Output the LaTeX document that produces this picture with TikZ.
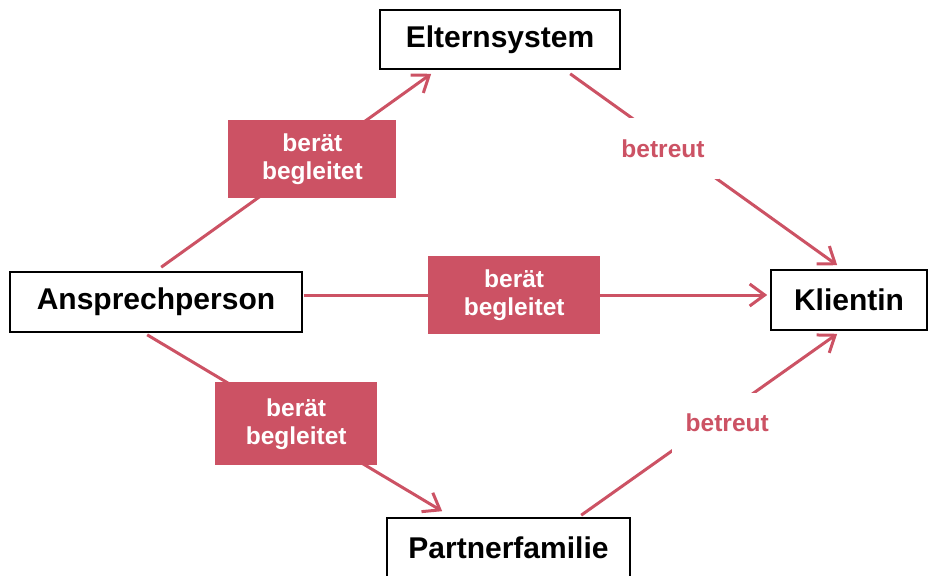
\documentclass[tikz,border=0pt]{standalone}
\usepackage{fontspec}
\setmainfont{Liberation Sans}
\usetikzlibrary{arrows.meta,calc}
\definecolor{rosered}{RGB}{204,82,100}
\tikzset{
	person/.style={draw=black, line width=1.6pt, fill=white, inner sep=0pt, font=\fontsize{30}{34}\selectfont\bfseries},
	task/.style={fill=rosered, text=white, align=center, inner sep=0pt, font=\fontsize{24.5}{28}\selectfont\bfseries},
	care/.style={fill=white, text=rosered, inner xsep=14pt, inner ysep=0pt, minimum height=61, font=\fontsize{24.5}{28}\selectfont\bfseries},
	link/.style={draw=rosered, line width=3pt, -{Straight Barb[length=15pt,width=22pt]}}
}
\begin{document}
\begin{tikzpicture}[x=1pt, y=-1pt]
	\useasboundingbox (0,0) rectangle (928,575);
	
	% Personen
	\node[person, minimum width=240, minimum height=59] (eltern) at (500, 39.5) {Elternsystem};
	\node[person, minimum width=292, minimum height=60] (ansprech) at (156, 302) {Ansprechperson};
	\node[person, minimum width=156, minimum height=60] (klientin) at (849, 300) {Klientin};
	\node[person, minimum width=243, minimum height=60] (partner) at (508.5, 548) {Partnerfamilie};
	
	% berät / begleitet
	\draw[link] ($(ansprech.north west)+(152,-4)$) -- node[task, pos=0.56, minimum width=168, minimum height=78] (beratE) {berät\\begleitet} ($(eltern.south west)+(52,4)$);
	\draw[link] ($(ansprech.east)+(1,-7)$) -- node[task, pos=0.454, minimum width=172, minimum height=78] (beratK) {berät\\begleitet} ($(klientin.west)+(-3,-5)$);
	\draw[link] ($(ansprech.south west)+(138,2)$) -- node[task, pos=0.505, minimum width=162, minimum height=83] (beratP) {berät\\begleitet} ($(partner.north west)+(56,-6)$);
	
	% betreut
	\draw[link] ($(eltern.south west)+(191,4)$) -- node[care, pos=0.4, xshift=-14pt, yshift=2pt] (betreutE) {betreut} ($(klientin.north west)+(67,-4)$);
	\draw[link] ($(partner.north west)+(195,-2)$) -- node[care, pos=0.508, xshift=16pt] (betreutP) {betreut} ($(klientin.south west)+(67,3)$);
	
\end{tikzpicture}
\end{document}
